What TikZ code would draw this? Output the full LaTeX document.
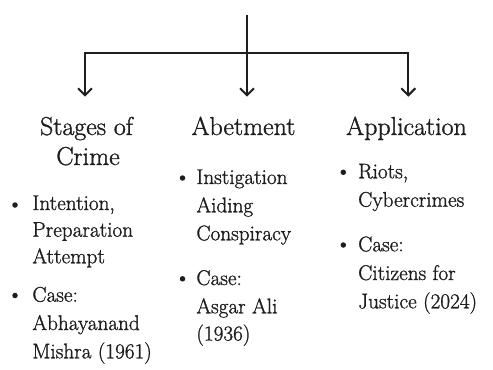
\documentclass[tikz,border=0pt]{standalone}
\usepackage{fontspec}
\setmainfont{Latin Modern Roman}[FakeBold=1.2]
\usetikzlibrary{arrows.meta}
\definecolor{ink}{HTML}{1E1E1E}
\begin{document}
\begin{tikzpicture}[x=1bp,y=-1bp,
  conn/.style={draw=ink,line width=2bp},
  arr/.style={conn,-{Straight Barb[length=7bp,width=14bp]}},
  head/.style={text=ink,font=\fontsize{26}{30}\selectfont,inner sep=0pt,anchor=base},
  body/.style={text=ink,font=\fontsize{21.3}{26}\selectfont,inner sep=0pt,anchor=base west},
  dot/.style={circle,fill=ink,inner sep=0pt,minimum size=5.5bp}]
\useasboundingbox[fill=white] (0,0) rectangle (493,369);
% connectors
\coordinate (top) at (247,15);
\coordinate (j) at (247,53.3);
\coordinate (lt) at (85,96.7);
\coordinate (mt) at (247,96.7);
\coordinate (rt) at (408.3,96.7);
\draw[conn] (top) -- (j);
\draw[arr] (j) -| (lt);
\draw[arr] (j) -- (mt);
\draw[arr] (j) -| (rt);
% headings
\node[head] (h1a) at (86.5,135) {Stages of};
\node[head] (h1b) at (88,165) {Crime};
\node[head] (h2) at (243.5,135) {Abetment};
\node[head] (h3) at (406.5,135) {Application};
% left column
\node[dot] (lb1) at (15,205) {};
\node[body] (l1) at (32.2,210) {Intention,};
\node[body] (l2) at (32.2,236.7) {Preparation};
\node[body] (l3) at (32.2,263.3) {Attempt};
\node[dot] (lb2) at (15,295.5) {};
\node[body] (l4) at (32.2,301.7) {Case:};
\node[body] (l5) at (32.2,330) {Abhayanand};
\node[body] (l6) at (32.2,358.3) {Mishra (1961)};
% middle column
\node[dot] (mb1) at (182.5,178) {};
\node[body] (m1) at (196.2,184) {Instigation};
\node[body] (m2) at (196.2,212.3) {Aiding};
\node[body] (m3) at (196.2,240.3) {Conspiracy};
\node[dot] (mb2) at (182.5,278.8) {};
\node[body] (m4) at (196.2,285) {Case:};
\node[body] (m5) at (196.2,313.3) {Asgar Ali};
\node[body] (m6) at (196.2,340.5) {(1936)};
% right column
\node[dot] (rb1) at (343.3,172.3) {};
\node[body] (r1) at (358,178.3) {Riots,};
\node[body] (r2) at (358,206.7) {Cybercrimes};
\node[dot] (rb2) at (343.3,245) {};
\node[body] (r3) at (358,251.3) {Case:};
\node[body] (r4) at (358,280) {Citizens for};
\node[body] (r5) at (358,308.3) {Justice (2024)};
\end{tikzpicture}
\end{document}
